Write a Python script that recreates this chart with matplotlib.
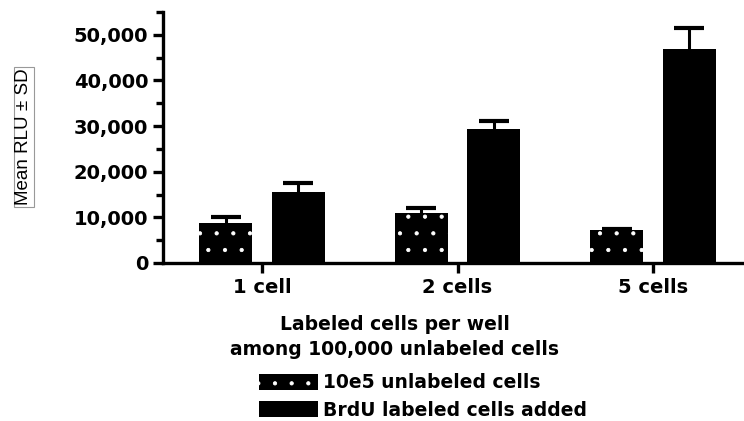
import matplotlib.pyplot as plt
import numpy as np

plt.rcParams['hatch.linewidth'] = 0.6
plt.rcParams['hatch.color'] = 'white'

groups = ['1 cell', '2 cells', '5 cells']
unlabeled_mean = [8700, 10900, 7200]
unlabeled_sd = [1300, 1100, 200]
brdu_mean = [15500, 29300, 46900]
brdu_sd = [2000, 1900, 4600]
series_names = ['10e5 unlabeled cells', 'BrdU labeled cells added']

fig = plt.figure(figsize=(7.44, 4.21), dpi=100)
ax = fig.add_axes([163 / 744, 1 - 263 / 421, 1 - 163 / 744, (263 - 12) / 421])

x = np.arange(len(groups))
w = 0.27
err_style = dict(ecolor='black', elinewidth=2.2, capsize=11, capthick=3)

b1 = ax.bar(x - 0.185, unlabeled_mean, w, color='black', edgecolor='white',
            linewidth=0, hatch='.', yerr=[np.zeros(3), unlabeled_sd],
            error_kw=err_style, label=series_names[0])
b2 = ax.bar(x + 0.185, brdu_mean, w, color='black', linewidth=0,
            yerr=[np.zeros(3), brdu_sd], error_kw=err_style,
            label=series_names[1])

# only the upper half of each error bar gets a cap
for bars in (b1, b2):
    caps = bars.errorbar.lines[1]
    caps[0].set_visible(False)

ax.set_xlim(-0.506, 2.465)
ax.set_ylim(0, 55000)

for side in ['top', 'right']:
    ax.spines[side].set_visible(False)
for side in ['left', 'bottom']:
    ax.spines[side].set_linewidth(2.4)

ax.set_yticks(np.arange(0, 50001, 10000))
ax.set_yticks(np.arange(5000, 55001, 10000), minor=True)
ax.set_yticklabels(['0'] + [f'{v:,}' for v in range(10000, 50001, 10000)])
ax.set_xticks(x)
ax.set_xticklabels(groups)
ax.tick_params(axis='both', which='major', length=7, width=2.4, labelsize=14)
ax.tick_params(axis='y', which='minor', length=5, width=2.4)
ax.tick_params(axis='x', pad=4)
for lbl in ax.get_xticklabels() + ax.get_yticklabels():
    lbl.set_fontweight('bold')

fig.text(24 / 744, 1 - 137 / 421, 'Mean RLU ± SD', rotation=90,
         ha='center', va='center', fontsize=13.5, family='Liberation Sans',
         bbox=dict(boxstyle='square,pad=0.1', facecolor='white',
                   edgecolor='#999999', linewidth=0.8))

fig.text(395 / 744, 1 - 337 / 421,
         'Labeled cells per well\namong 100,000 unlabeled cells',
         ha='center', va='center', fontsize=13.5, fontweight='bold',
         linespacing=1.35)

fig.legend(handles=[b1, b2], loc='upper left',
           bbox_to_anchor=(250 / 744, 1 - 364 / 421), frameon=False,
           prop=dict(size=13.5, weight='bold'), handlelength=3.1,
           handleheight=0.95, handletextpad=0.3, labelspacing=0.45,
           borderpad=0)

fig.savefig('out.png', dpi=100)
